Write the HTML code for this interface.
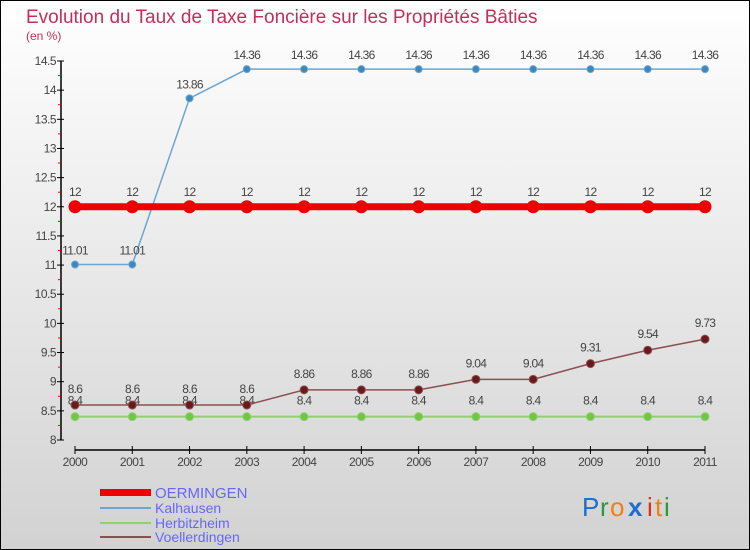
<!DOCTYPE html>
<html><head><meta charset="utf-8"><style>
body{margin:0;}
#c{width:750px;height:550px;position:relative;overflow:hidden;}
svg text{font-family:"Liberation Sans",sans-serif;}
</style></head><body>
<div id="c">
<svg id="s" width="750" height="550" xmlns="http://www.w3.org/2000/svg">
<defs><linearGradient id="bg" x1="0" y1="0" x2="0" y2="1"><stop offset="0" stop-color="#ffffff"/><stop offset="1" stop-color="#d2d2d2"/></linearGradient></defs>
<rect x="0.5" y="0.5" width="749" height="549" fill="url(#bg)" stroke="#000"/>
<text x="26" y="23" font-size="19" fill="#c0305a">Evolution du Taux de Taxe Foncière sur les Propriétés Bâties</text>
<text x="26" y="40" font-size="12" fill="#c0305a">(en %)</text>
<g id="axes"></g>
<g id="series"></g>
<g id="legend">
<rect x="100" y="489" width="51" height="7" fill="#e00"/>
<text x="155" y="498" font-size="15" fill="#6666ff">OERMINGEN</text>
<line x1="100" y1="508" x2="151" y2="508" stroke="#6ea6d0" stroke-width="2"/>
<text x="155" y="513" font-size="14" fill="#6666ff">Kalhausen</text>
<line x1="100" y1="523" x2="151" y2="523" stroke="#90d070" stroke-width="2"/>
<text x="155" y="528" font-size="14" fill="#6666ff">Herbitzheim</text>
<line x1="100" y1="537" x2="151" y2="537" stroke="#8a5050" stroke-width="2"/>
<text x="155" y="542" font-size="14" fill="#6666ff">Voellerdingen</text>
</g>
<g font-size="26">
<text x="582" y="516" fill="#1a6fd0">P</text><text x="600" y="516" fill="#2a9a3a">r</text><text x="610" y="516" fill="#f08010">o</text><text x="628" y="516" fill="#1a6fd0" font-weight="bold">x</text><text x="647" y="516" fill="#e03010">i</text><text x="655" y="516" fill="#f08010">t</text><text x="664" y="516" fill="#2a9a3a">i</text>
</g>
</svg></div>
<script>
const years=[2000,2001,2002,2003,2004,2005,2006,2007,2008,2009,2010,2011];
const oermingen=[12,12,12,12,12,12,12,12,12,12,12,12];
const kalhausen=[11.01,11.01,13.86,14.36,14.36,14.36,14.36,14.36,14.36,14.36,14.36,14.36];
const herbitzheim=[8.4,8.4,8.4,8.4,8.4,8.4,8.4,8.4,8.4,8.4,8.4,8.4];
const voellerdingen=[8.6,8.6,8.6,8.6,8.86,8.86,8.86,9.04,9.04,9.31,9.54,9.73];
const yTicks=[8,8.5,9,9.5,10,10.5,11,11.5,12,12.5,13,13.5,14,14.5];
const NS="http://www.w3.org/2000/svg";
function xs(i){return 75+i*(705-75)/(years.length-1);}
function ys(v){return 440-(v-8)*(440-61)/6.5;}
function mk(t,a,p){const e=document.createElementNS(NS,t);for(const k in a)e.setAttribute(k,a[k]);p.appendChild(e);return e;}
const ax=document.getElementById('axes');
let l=mk('line',{x1:61,y1:61,x2:61,y2:440,stroke:'#000','stroke-width':1.5},ax);


l=mk('line',{x1:75,y1:450,x2:705,y2:450,stroke:'#000','stroke-width':1.5},ax);


yTicks.forEach(v=>{const y=ys(v);
mk('line',{x1:57,y1:y,x2:64,y2:y,stroke:'#000'},ax);
if(v<14.5)mk('line',{x1:58,y1:ys(v+0.25),x2:61,y2:ys(v+0.25),stroke:'#e00'},ax);
const t=mk('text',{x:56,y:y+4,'font-size':12,fill:'#444','text-anchor':'end','letter-spacing':'-0.5'},ax);t.textContent=v;

});
years.forEach((yr,i)=>{const x=xs(i);
mk('line',{x1:x,y1:446,x2:x,y2:454,stroke:'#000'},ax);
const t=mk('text',{x:x,y:466,'font-size':12,fill:'#444','text-anchor':'middle','letter-spacing':'-0.5'},ax);t.textContent=yr;

});
const sg=document.getElementById('series');
function series(name,vals,line,lw,dot,r,dy){
const g=mk('g',{},sg);


mk('polyline',{points:vals.map((v,i)=>xs(i)+','+ys(v)).join(' '),fill:'none',stroke:line,'stroke-width':lw},g);
vals.forEach((v,i)=>{const c=mk('circle',{cx:xs(i),cy:ys(v),r:r,fill:dot,stroke:line,'stroke-width':1},g);


const t=mk('text',{x:xs(i),y:ys(v)+dy,'font-size':12,fill:'#444','text-anchor':'middle','letter-spacing':'-0.7'},g);t.textContent=v;

});}
series('herbitzheim',herbitzheim,'#90d070',2,'#70c840',4,-12);
series('voellerdingen',voellerdingen,'#8a5050',1.5,'#6a1a1a',4,-12);
series('kalhausen',kalhausen,'#6ea6d0',1.5,'#3a88c0',3.5,-10);
series('oermingen',oermingen,'#e00',7,'#e00',6,-11);
</script>
</body></html>
